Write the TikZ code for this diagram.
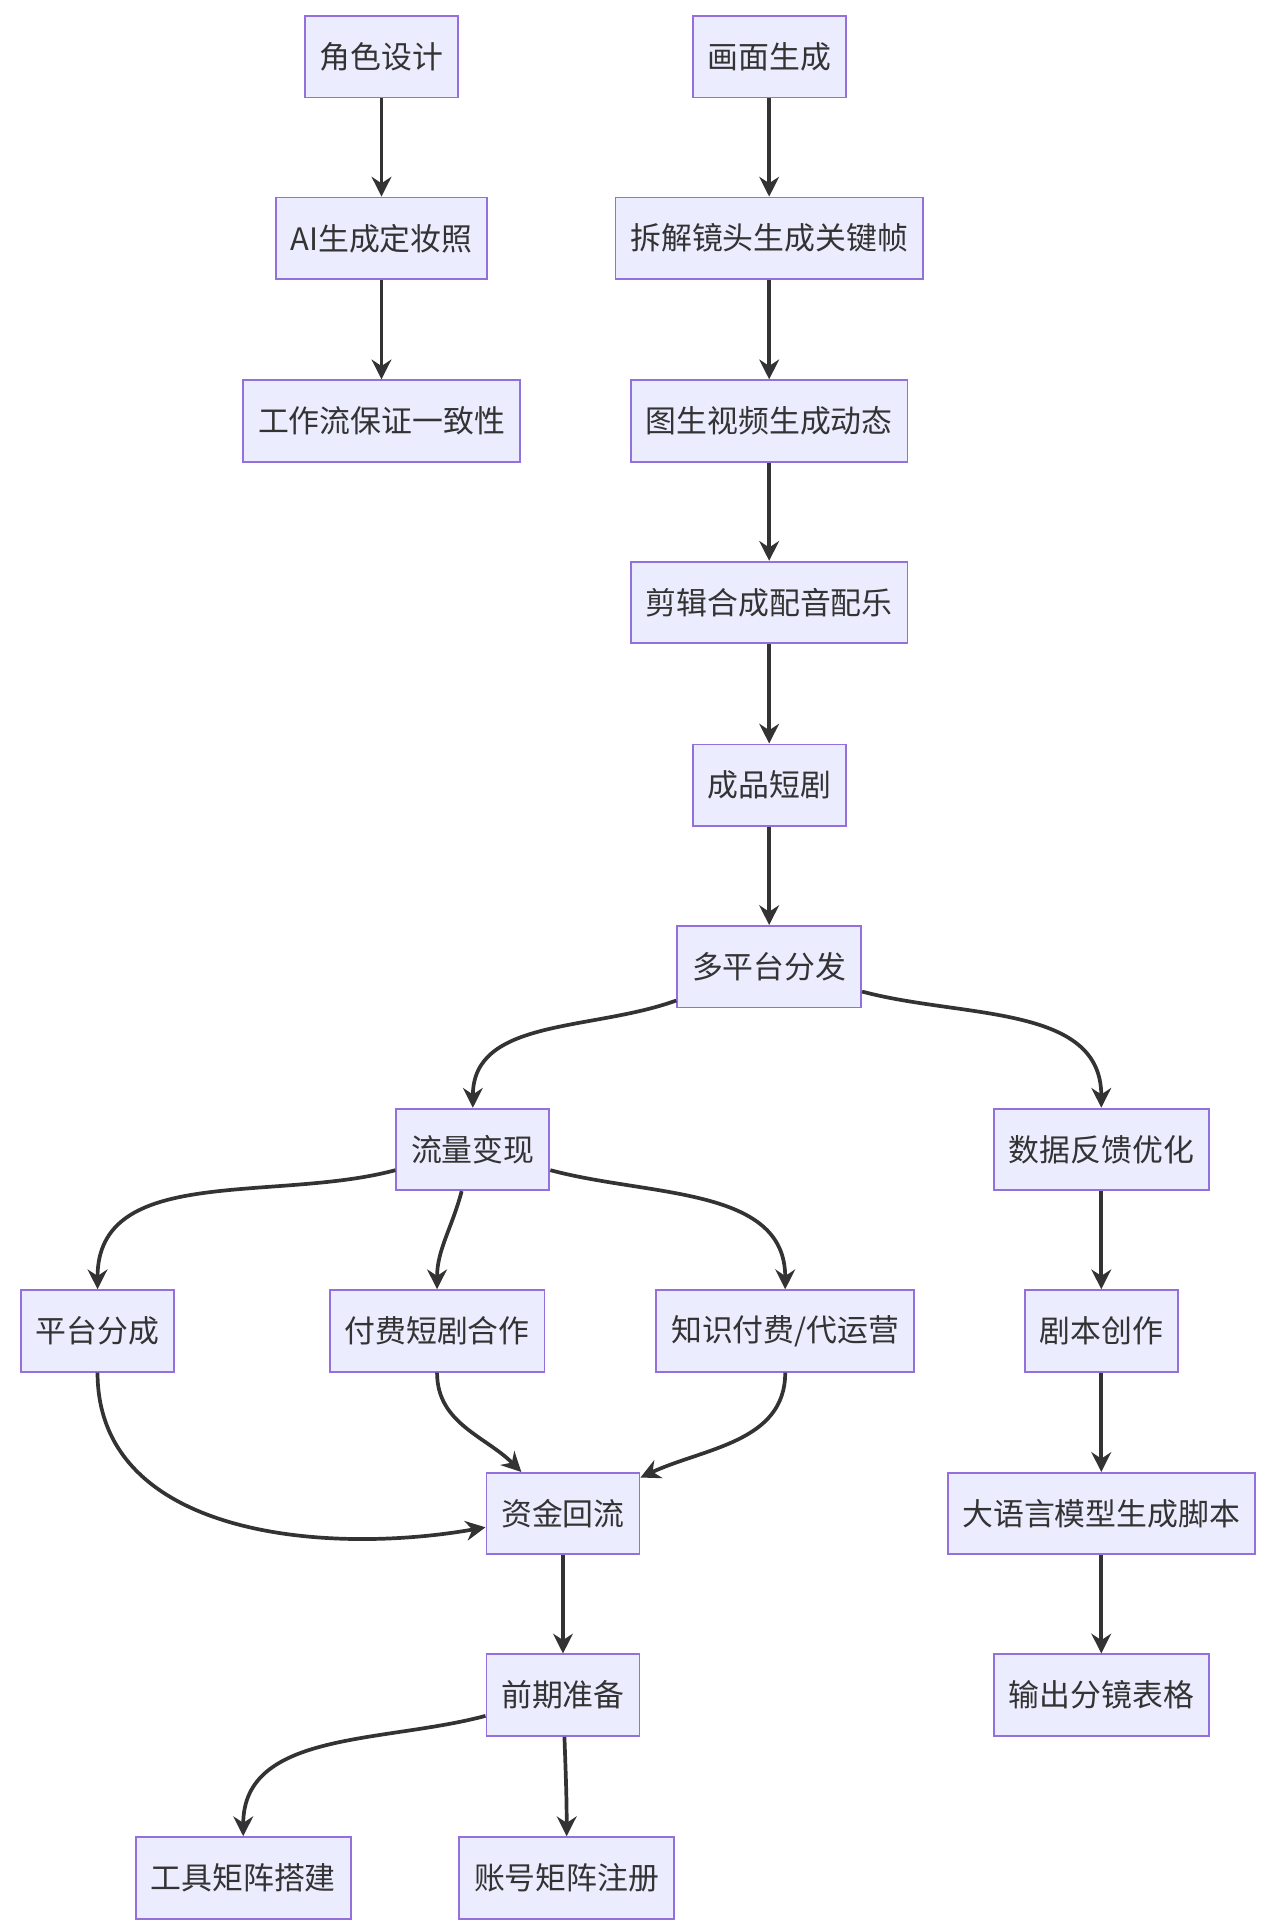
\documentclass[tikz,border=0pt]{standalone}
\usepackage{fontspec}
\setmainfont{Noto Sans CJK SC}
\usetikzlibrary{arrows.meta}
\definecolor{boxfill}{HTML}{ECECFF}
\definecolor{boxline}{HTML}{9370DB}
\definecolor{arrowc}{HTML}{333333}
\tikzset{
  box/.style={draw=boxline, fill=boxfill, line width=1.5pt, minimum height=66pt, inner xsep=12pt, font=\fontsize{25}{30}\selectfont, text=arrowc},
  flow/.style={draw=arrowc, line width=3pt, -{Stealth[length=16pt,width=16pt]}}
}
\begin{document}
\begin{tikzpicture}[x=1pt,y=-1pt]
    \useasboundingbox (0,0) rectangle (1030,1560);
    \node[box] (jsj) at (309,46) {角色设计};
    \node[box] (dzz) at (309,193) {AI生成定妆照};
    \node[box] (gzl) at (309,341) {工作流保证一致性};
    \node[box] (hmsc) at (623,46) {画面生成};
    \node[box] (cjjt) at (623,193) {拆解镜头生成关键帧};
    \node[box] (tssp) at (623,341) {图生视频生成动态};
    \node[box] (jjhc) at (623,488) {剪辑合成配音配乐};
    \node[box] (cpdj) at (623,636) {成品短剧};
    \node[box] (fen) at (623,783) {多平台分发};
    \node[box] (llbx) at (383,931) {流量变现};
    \node[box] (sjfk) at (892,931) {数据反馈优化};
    \node[box] (ptfc) at (79,1078) {平台分成};
    \node[box] (fufei) at (354,1078) {付费短剧合作};
    \node[box] (zhishi) at (636,1078) {知识付费/代运营};
    \node[box] (jbcz) at (892,1078) {剧本创作};
    \node[box] (zjhl) at (456,1226) {资金回流};
    \node[box] (dyy) at (892,1226) {大语言模型生成脚本};
    \node[box] (qqzb) at (456,1373) {前期准备};
    \node[box] (scfj) at (892,1373) {输出分镜表格};
    \node[box] (gjjz) at (197,1521) {工具矩阵搭建};
    \node[box] (zhjz) at (459,1521) {账号矩阵注册};

    \draw[flow] (jsj) -- (dzz);
    \draw[flow] (dzz) -- (gzl);
    \draw[flow] (hmsc) -- (cjjt);
    \draw[flow] (cjjt) -- (tssp);
    \draw[flow] (tssp) -- (jjhc);
    \draw[flow] (jjhc) -- (cpdj);
    \draw[flow] (cpdj) -- (fen);
    \draw[flow] (fen) to[out=200,in=90] (llbx);
    \draw[flow] (fen) to[out=-15,in=90] (sjfk);
    \draw[flow] (llbx) to[out=195,in=90] (ptfc);
    \draw[flow] (llbx) to[out=-105,in=90] (fufei);
    \draw[flow] (llbx) to[out=-15,in=90] (zhishi);
    \draw[flow] (ptfc) to[out=-90,in=190] (zjhl);
    \draw[flow] (fufei) to[out=-90,in=135] (zjhl);
    \draw[flow] (zhishi) to[out=-90,in=25] (zjhl);
    \draw[flow] (sjfk) -- (jbcz);
    \draw[flow] (jbcz) -- (dyy);
    \draw[flow] (dyy) -- (scfj);
    \draw[flow] (zjhl) -- (qqzb);
    \draw[flow] (qqzb) to[out=195,in=90] (gjjz);
    \draw[flow] (qqzb) to[out=-88,in=90] (zhjz);
\end{tikzpicture}
\end{document}
